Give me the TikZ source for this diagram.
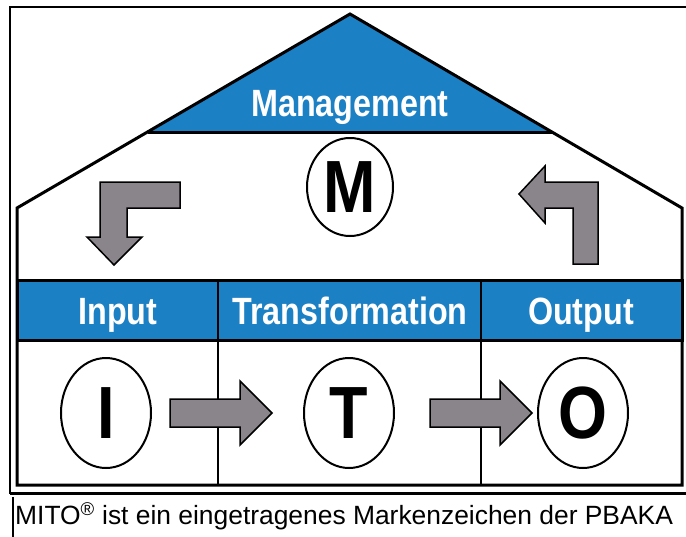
\documentclass[tikz,border=0pt]{standalone}
\usepackage{fontspec}
\setmainfont{Liberation Sans}
\newfontfamily\narrowfont[FakeStretch=0.85]{Liberation Sans}
\usetikzlibrary{shapes.geometric}

\definecolor{mitoblue}{RGB}{28,128,196}
\definecolor{arrowgray}{RGB}{138,133,138}

\tikzset{
  house/.style={draw=black, line width=3pt, line join=miter},
  bar/.style={fill=mitoblue, draw=black, line width=3pt},
  barlabel/.style={text=white, inner sep=0pt, anchor=base, font=\narrowfont\bfseries\fontsize{38}{38}\selectfont},
  letter/.style={draw, ellipse, line width=2pt, inner sep=0pt, minimum width=90pt, minimum height=110pt,
    font=\narrowfont\bfseries\fontsize{74}{74}\selectfont},
  blockarrow/.style={fill=arrowgray, draw=black, line width=1.5pt, line join=miter},
}

\begin{document}
\begin{tikzpicture}[x=1pt,y=-1pt]
\useasboundingbox (0,0) rectangle (686,536);

% frame
\draw[line width=1.2pt] (10,7) rectangle (690,493);
\draw[line width=3pt] (10,493) -- (690,493);
\draw[line width=1.2pt] (13,497) -- (13,540);

% roof
\fill[mitoblue] (350,14) -- (148,132) -- (552,132) -- cycle;
\draw[house] (17,485) -- (17,208) -- (350,14) -- (682,208) -- (682,485) -- cycle;
\draw[line width=3pt] (148,132) -- (552,132);
\node[barlabel] (mgmt) at (350,116) {Management};

% bar
\draw[bar] (17,280) rectangle (682,340);
\draw[line width=2pt] (218,280) -- (218,485);
\draw[line width=2pt] (481,280) -- (481,485);
\node[barlabel] (inp) at (118,324) {Input};
\node[barlabel] (trf) at (350,324) {Transformation};
\node[barlabel] (outp) at (581,324) {Output};

% circles
\node[letter, minimum width=86pt, minimum height=98pt] (mcirc) at (350,187) {M};
\node[letter] (icirc) at (106,413) {I};
\node[letter] (tcirc) at (349,413) {T};
\node[letter] (ocirc) at (583,413) {O};

% straight arrows
\draw[blockarrow] (icirc.east) ++(18,-14) -- ++(70,0) -- ++(0,-18) -- ++(32,32) -- ++(-32,32) -- ++(0,-18) -- ++(-70,0) -- cycle;
\draw[blockarrow] (tcirc.east) ++(35,-14) -- ++(70,0) -- ++(0,-18) -- ++(32,32) -- ++(-32,32) -- ++(0,-18) -- ++(-70,0) -- cycle;

% bent arrows
\draw[blockarrow] (180,182) -- (100,182) -- (100,237) -- (87,237) -- (114,265) -- (142,237) -- (127,237) -- (127,208) -- (180,208) -- cycle;
\draw[blockarrow] (598,182) -- (598,264) -- (573,264) -- (573,208) -- (545,208) -- (545,223) -- (519,194) -- (545,166) -- (545,182) -- cycle;

% caption
\node[anchor=west, inner sep=0pt, font=\fontsize{26.4}{26.4}\selectfont] (note) at (15,516) {MITO\textsuperscript{®} ist ein eingetragenes Markenzeichen der PBAKA};
\end{tikzpicture}
\end{document}
